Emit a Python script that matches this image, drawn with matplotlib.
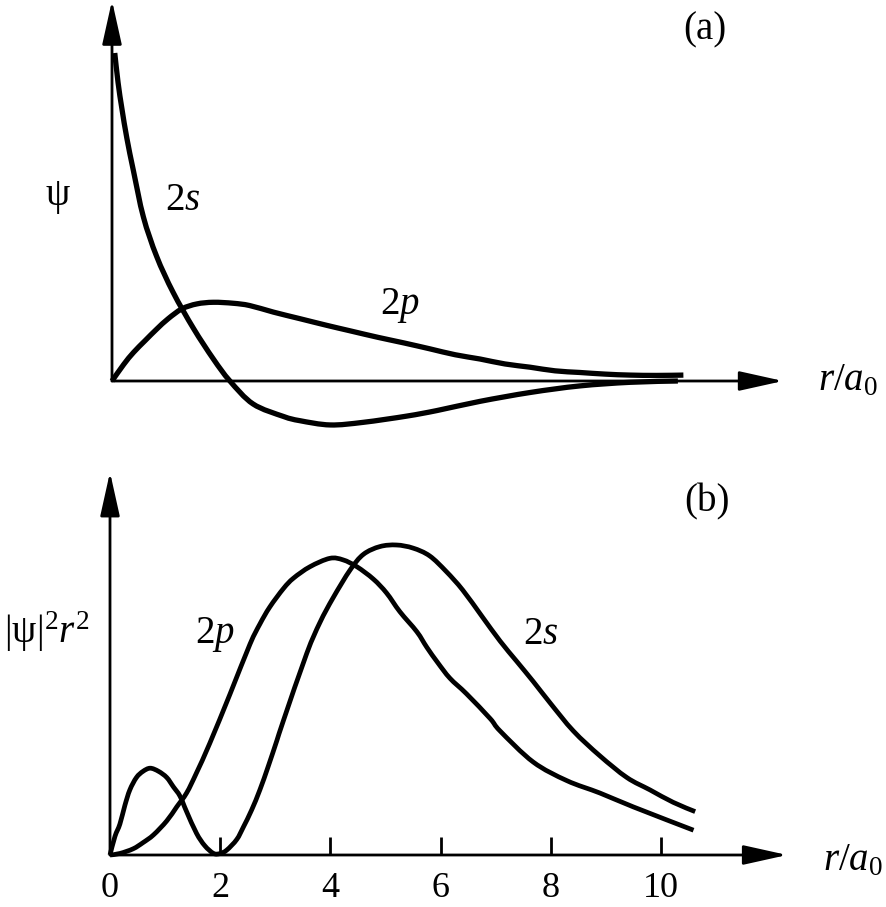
import matplotlib
matplotlib.use("Agg")
import numpy as np
import matplotlib.pyplot as plt
from matplotlib.patches import ArrowStyle, PathPatch
from matplotlib.path import Path

plt.rcParams['font.family'] = ['Liberation Serif', 'DejaVu Serif']
plt.rcParams['mathtext.fontset'] = 'custom'
plt.rcParams['mathtext.rm'] = 'Liberation Serif'
plt.rcParams['mathtext.it'] = 'Liberation Serif:italic'

# (a) wavefunctions (r in units of a0, psi in arbitrary units)
r_2s_a = [0.05, 0.11, 0.18, 0.27, 0.39, 0.57, 0.81, 1.11, 1.48, 1.84, 2.14, 2.56, 3.11,
          3.41, 3.96, 4.56, 5.35, 5.90, 6.68, 7.59, 8.49, 9.40, 10.27]
psi_2s = [1.00, 0.91, 0.83, 0.74, 0.64, 0.50, 0.38, 0.27, 0.16, 0.067, 0.0, -0.07, -0.108,
          -0.121, -0.134, -0.126, -0.107, -0.09, -0.062, -0.035, -0.015, -0.004, 0.0]

r_2p_a = [0.0, 0.21, 0.39, 0.60, 0.81, 1.02, 1.27, 1.54, 1.84, 2.20, 2.50, 2.93, 3.41, 3.89,
          4.32, 4.83, 5.30, 5.77, 6.23, 6.68, 7.13, 7.59, 8.04, 8.49, 8.95, 9.40, 9.88, 10.37]
psi_2p = [0.0, 0.05, 0.087, 0.123, 0.158, 0.19, 0.22, 0.235, 0.24, 0.237, 0.23, 0.21, 0.19, 0.17,
          0.153, 0.133, 0.116, 0.098, 0.08, 0.067, 0.052, 0.042, 0.031, 0.026, 0.021, 0.018, 0.017, 0.018]

# (b) radial probability |psi|^2 r^2
r_2s_b = [0.0, 0.09, 0.18, 0.27, 0.36, 0.48, 0.60, 0.73, 0.88, 1.03, 1.15, 1.27, 1.39, 1.57,
          1.72, 1.88, 2.00, 2.12, 2.30, 2.42, 2.57, 2.72, 2.87, 3.03, 3.15, 3.57, 3.81, 4.05,
          4.36, 4.60, 4.90, 5.20, 5.50, 5.80, 6.10, 6.40, 6.75, 7.08, 7.38, 7.68, 7.99, 8.41,
          8.89, 9.38, 9.80, 10.22, 10.62]
P_2s = [0.0, 0.06, 0.10, 0.16, 0.21, 0.25, 0.27, 0.28, 0.27, 0.25, 0.22, 0.19, 0.14, 0.07,
        0.03, 0.005, 0.005, 0.016, 0.05, 0.09, 0.145, 0.21, 0.285, 0.37, 0.435, 0.65, 0.75, 0.83,
        0.92, 0.97, 0.995, 1.00, 0.99, 0.965, 0.915, 0.855, 0.77, 0.69, 0.625, 0.56, 0.49, 0.40,
        0.32, 0.25, 0.21, 0.17, 0.14]

r_2p_b = [0.0, 0.18, 0.42, 0.60, 0.79, 1.03, 1.21, 1.39, 1.57, 1.81, 2.18, 2.54, 2.72,
          2.90, 3.15, 3.33, 3.63, 3.99, 4.23, 4.48, 4.78, 5.02, 5.26, 5.57, 5.75, 5.95, 6.17,
          6.47, 6.90, 7.08, 7.68, 8.29, 8.89, 9.50, 10.59]
P_2p = [0.0, 0.005, 0.02, 0.04, 0.065, 0.11, 0.155, 0.20, 0.265, 0.36, 0.52, 0.68, 0.745,
        0.80, 0.86, 0.893, 0.93, 0.957, 0.952, 0.93, 0.89, 0.845, 0.785, 0.72, 0.67, 0.62, 0.57,
        0.52, 0.44, 0.40, 0.30, 0.24, 0.20, 0.155, 0.08]

ticks_b = [2, 4, 6, 8, 10]
tick_labels = ['0', '2', '4', '6', '8', '10']


def smooth_curve(ax, x, y, lw):
    # draw a smooth bezier through the read points
    pts = np.column_stack([x, y])
    n = len(pts)
    verts = [pts[0]]
    codes = [Path.MOVETO]
    for i in range(n - 1):
        p0 = pts[max(i - 1, 0)]
        p1 = pts[i]
        p2 = pts[i + 1]
        p3 = pts[min(i + 2, n - 1)]
        verts += [p1 + (p2 - p0) / 6, p2 - (p3 - p1) / 6, p2]
        codes += [Path.CURVE4] * 3
    ax.add_patch(PathPatch(Path(verts, codes), fill=False, ec='black', lw=lw,
                           capstyle='butt', joinstyle='round'))


fig = plt.figure(figsize=(8.86, 9.07), dpi=100)
ax_a = fig.add_axes([0, 457 / 907, 1, 450 / 907])
ax_b = fig.add_axes([0, 0, 1, 460 / 907])

head = ArrowStyle('-|>', head_length=1.35, head_width=0.3)


def draw_axes(ax, x_end, y_end):
    ax.annotate('', xy=(x_end, 0), xytext=(0, 0),
                arrowprops=dict(arrowstyle=head, lw=2, color='black',
                                shrinkA=0, shrinkB=0, mutation_scale=20))
    ax.annotate('', xy=(0, y_end), xytext=(0, 0),
                arrowprops=dict(arrowstyle=head, lw=2, color='black',
                                shrinkA=0, shrinkB=0, mutation_scale=20))


fs = 28

# ---- panel (a)
ax_a.set_xlim(-112 / 55.1, (886 - 112) / 55.1)
ax_a.set_ylim(-69 / 328, 381 / 328)
ax_a.axis('off')
draw_axes(ax_a, 12.18, 1.16)
smooth_curve(ax_a, r_2s_a, psi_2s, 3.8)
smooth_curve(ax_a, r_2p_a, psi_2p, 3.8)
ax_a.text(-0.98, 0.56, r'$\mathrm{\psi}$', fontsize=fs, ha='center', va='center')
ax_a.text(1.29, 0.55, r'$2s$', fontsize=fs, ha='center', va='center')
ax_a.text(5.23, 0.23, r'$2p$', fontsize=fs, ha='center', va='center')
ax_a.text(10.76, 1.07, '(a)', fontsize=fs, ha='center', va='center')
ax_a.text(13.36, 0.0, r'$r/a_0$', fontsize=fs, ha='center', va='center')

# ---- panel (b)
ax_b.set_xlim(-110 / 55.1, (886 - 110) / 55.1)
ax_b.set_ylim(-52 / 310, 408 / 310)
ax_b.axis('off')
draw_axes(ax_b, 12.29, 1.235)
smooth_curve(ax_b, r_2s_b, P_2s, 3.4)
smooth_curve(ax_b, r_2p_b, P_2p, 3.4)
ax_b.vlines(ticks_b, 0, 0.058, color='black', lw=2)
for i, lab in enumerate(tick_labels):
    ax_b.text(2 * i, -0.135, lab, fontsize=26, ha='center', va='baseline')
ax_b.text(1.91, 0.71, r'$2p$', fontsize=fs, ha='center', va='center')
ax_b.text(7.82, 0.71, r'$2s$', fontsize=fs, ha='center', va='center')
ax_b.text(10.83, 1.14, '(b)', fontsize=fs, ha='center', va='center')
ax_b.text(-1.14, 0.72, r'$|\mathrm{\psi}|^2r^2$', fontsize=fs, ha='center', va='center')
ax_b.text(13.48, -0.02, r'$r/a_0$', fontsize=fs, ha='center', va='center')

fig.savefig('out.png', dpi=100)
